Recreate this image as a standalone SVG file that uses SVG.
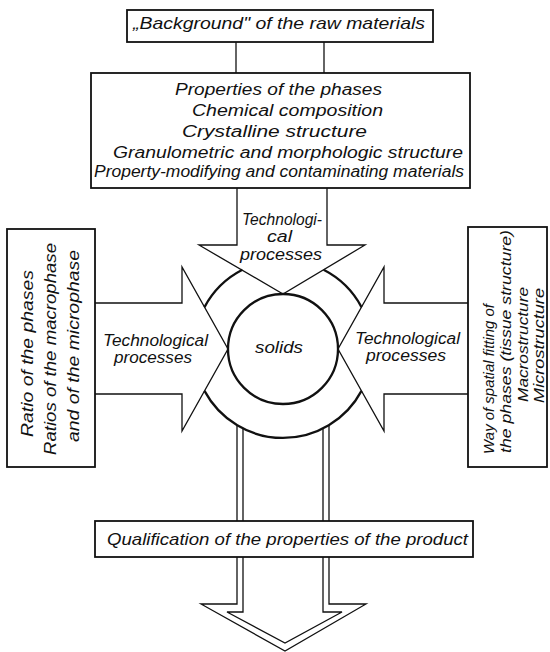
<svg xmlns="http://www.w3.org/2000/svg" width="550" height="652" viewBox="0 0 550 652">
<style>
.bx{fill:#fff;stroke:#111;stroke-width:1.8}
.ar{fill:none;stroke:#111;stroke-width:1.3;stroke-linejoin:miter}
.ln{fill:none;stroke:#111;stroke-width:1.3}
.rg{fill:none;stroke:#111;stroke-width:2.3}
text{font-family:"Liberation Sans",Arial,sans-serif;font-style:italic;fill:#111}
.f15{font-size:15px}
.f16{font-size:16px}
.f17{font-size:17px}
</style>
<rect width="550" height="652" fill="#fff"/>
<g id="connectors">
  <line class="ln" x1="236" y1="42" x2="236" y2="73"/>
  <line class="ln" x1="324" y1="42" x2="324" y2="73"/>
  <g id="arrow-top">
    <path class="ar" d="M237,188 V245 H199 L283,294 L365,245 H327 V188"/>
  </g>
  <g id="arrow-left">
    <path class="ar" d="M95,303 H182 V267 L228,349 L182,431 V394 H95"/>
  </g>
  <g id="arrow-right">
    <path class="ar" d="M468,303 H384 V267 L338,349 L384,431 V394 H468"/>
  </g>
  <g id="arrow-bottom">
    <path class="ar" d="M237,425.2 V521 M237,557 V604 H201 L285,651 L366,604 H329 V557 M329,521 V425.2"/>
    <path class="ar" d="M243,428.5 V521 M243,557 V612 H227 L285,643 L342,612 H323 V557 M323,521 V428.5"/>
  </g>
</g>
<g id="solids">
  <circle class="rg" cx="283" cy="349" r="55"/>
  <path class="rg" d="M204.5,307.1 A89,89 0 0 1 242.4,269.8"/>
  <path class="rg" d="M323.6,269.8 A89,89 0 0 1 361.5,307.1"/>
  <path class="rg" d="M361.5,390.9 A89,89 0 0 1 204.5,390.9"/>
  <text class="f17" x="255" y="353" textLength="48" lengthAdjust="spacingAndGlyphs">solids</text>
</g>
<g id="label-top">
  <text class="f16" x="242" y="225" textLength="80" lengthAdjust="spacingAndGlyphs">Technologi-</text>
  <text class="f16" x="267" y="242" textLength="25" lengthAdjust="spacingAndGlyphs">cal</text>
  <text class="f16" x="240" y="260" textLength="82" lengthAdjust="spacingAndGlyphs">processes</text>
</g>
<g id="label-left">
  <text class="f16" x="103" y="346" textLength="105" lengthAdjust="spacingAndGlyphs">Technological</text>
  <text class="f16" x="114" y="363" textLength="78" lengthAdjust="spacingAndGlyphs">processes</text>
</g>
<g id="label-right">
  <text class="f16" x="355" y="344" textLength="105" lengthAdjust="spacingAndGlyphs">Technological</text>
  <text class="f16" x="366" y="361" textLength="80" lengthAdjust="spacingAndGlyphs">processes</text>
</g>
<g id="box-raw">
  <rect class="bx" x="127" y="10" width="306" height="32"/>
  <text class="f17" x="133" y="28.5" textLength="292" lengthAdjust="spacingAndGlyphs">„Background" of the raw materials</text>
</g>
<g id="box-properties">
  <rect class="bx" x="91" y="73" width="379" height="115"/>
  <text class="f16" x="175" y="95" textLength="207" lengthAdjust="spacingAndGlyphs">Properties of the phases</text>
  <text class="f16" x="192" y="116" textLength="191" lengthAdjust="spacingAndGlyphs">Chemical composition</text>
  <text class="f16" x="182" y="137" textLength="185" lengthAdjust="spacingAndGlyphs">Crystalline structure</text>
  <text class="f16" x="113" y="158" textLength="350" lengthAdjust="spacingAndGlyphs">Granulometric and morphologic structure</text>
  <text class="f16" x="94" y="177" textLength="370" lengthAdjust="spacingAndGlyphs">Property-modifying and contaminating materials</text>
</g>
<g id="box-ratio">
  <rect class="bx" x="7" y="229" width="88" height="238"/>
  <text class="f17" transform="translate(33,353.5) rotate(-90)" text-anchor="middle" textLength="167" lengthAdjust="spacingAndGlyphs">Ratio of the phases</text>
  <text class="f17" transform="translate(56,349) rotate(-90)" text-anchor="middle" textLength="212" lengthAdjust="spacingAndGlyphs">Ratios of the macrophase</text>
  <text class="f17" transform="translate(79,346) rotate(-90)" text-anchor="middle" textLength="192" lengthAdjust="spacingAndGlyphs">and of the microphase</text>
</g>
<g id="box-spatial">
  <rect class="bx" x="468" y="227" width="79" height="240"/>
  <text class="f15" transform="translate(494,454) rotate(-90)" textLength="150" lengthAdjust="spacingAndGlyphs">Way of spatial fitting of</text>
  <text class="f15" transform="translate(511,453) rotate(-90)" textLength="223" lengthAdjust="spacingAndGlyphs">the phases (tissue structure)</text>
  <text class="f15" transform="translate(528,344.5) rotate(-90)" text-anchor="middle" textLength="115" lengthAdjust="spacingAndGlyphs">Macrostructure</text>
  <text class="f15" transform="translate(544,345.5) rotate(-90)" text-anchor="middle" textLength="115" lengthAdjust="spacingAndGlyphs">Microstructure</text>
</g>
<g id="box-qualification">
  <rect class="bx" x="95" y="521" width="378" height="36"/>
  <text class="f17" x="107" y="545" textLength="361" lengthAdjust="spacingAndGlyphs">Qualification of the properties of the product</text>
</g>
</svg>
